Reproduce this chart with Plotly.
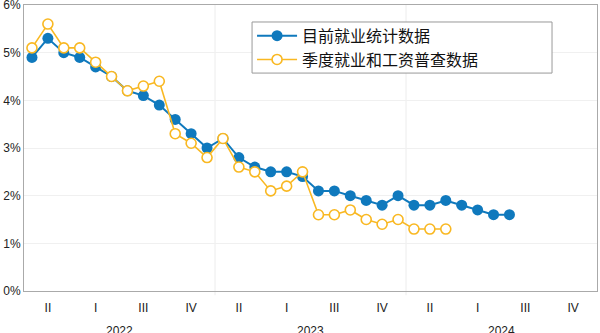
import plotly.graph_objects as go

# Monthly unemployment-style rates (%), index 0 = first month shown
ces_values = [4.9, 5.3, 5.0, 4.9, 4.7, 4.5, 4.2, 4.1, 3.9, 3.6, 3.3, 3.0,
              3.2, 2.8, 2.6, 2.5, 2.5, 2.4, 2.1, 2.1, 2.0, 1.9, 1.8, 2.0,
              1.8, 1.8, 1.9, 1.8, 1.7, 1.6, 1.6]
qcew_values = [5.1, 5.6, 5.1, 5.1, 4.8, 4.5, 4.2, 4.3, 4.4, 3.3, 3.1, 2.8,
               3.2, 2.6, 2.5, 2.1, 2.2, 2.5, 1.6, 1.6, 1.7, 1.5, 1.4, 1.5,
               1.3, 1.3, 1.3]
series_names = ["目前就业统计数据", "季度就业和工资普查数据"]
quarter_labels = ["II", "I", "III", "IV"] * 3
year_labels = ["2022", "2023", "2024"]
y_ticks = [0, 1, 2, 3, 4, 5, 6]

BLUE = "#0f79bd"
GOLD = "#f9b822"
FONT = "Liberation Sans, Arial, sans-serif"

months_ces = list(range(len(ces_values)))
months_qcew = list(range(len(qcew_values)))
quarter_pos = [1 + 3 * i for i in range(len(quarter_labels))]
year_pos = [5.5 + 12 * i for i in range(len(year_labels))]

fig = go.Figure()
fig.add_trace(go.Scatter(
    x=months_ces, y=ces_values, name=series_names[0], mode="lines+markers",
    line=dict(color=BLUE, width=2),
    marker=dict(color=BLUE, size=11, line=dict(width=0)),
))
fig.add_trace(go.Scatter(
    x=months_qcew, y=qcew_values, name=series_names[1], mode="lines+markers",
    line=dict(color=GOLD, width=1.6),
    marker=dict(color="white", size=10, line=dict(color=GOLD, width=1.6)),
))

# Year boundaries
for b in (11.5, 23.5):
    fig.add_shape(type="line", xref="x", yref="paper", x0=b, x1=b, y0=-0.015, y1=1,
                  line=dict(color="#ececec", width=1), layer="below")

# Legend frame
fig.add_shape(type="rect", xref="paper", yref="paper",
              x0=0.398, x1=0.9215, y0=0.762, y1=0.9406,
              line=dict(color="#999", width=1), fillcolor="white", layer="above")

for yr, pos in zip(year_labels, year_pos):
    fig.add_annotation(x=pos, y=-0.11, xref="x", yref="paper", text=yr,
                       showarrow=False, yanchor="top",
                       font=dict(family=FONT, size=12, color="#222"))

fig.update_layout(
    width=600, height=333,
    margin=dict(l=24, r=3, t=5, b=42, autoexpand=False),
    paper_bgcolor="white", plot_bgcolor="white",
    font=dict(family=FONT, size=12, color="#222"),
    showlegend=True,
    legend=dict(
        x=0.398, y=0.952, xanchor="left", yanchor="top",
        borderwidth=0, bgcolor="rgba(0,0,0,0)",
        font=dict(family="Noto Sans CJK SC", size=16, color="#111"),
        itemwidth=40, tracegroupgap=0,
    ),
    xaxis=dict(
        range=[-0.5, 35.5], tickmode="array", tickvals=quarter_pos,
        ticktext=quarter_labels, showgrid=False, zeroline=False,
        showline=True, linecolor="#aaa", linewidth=1, mirror=True,
        ticks="", ticklen=0, ticklabelstandoff=6, automargin=False,
        tickfont=dict(size=12, color="#222"),
    ),
    yaxis=dict(
        range=[0, 6], tickmode="array", tickvals=y_ticks,
        ticktext=[f"{v}%" for v in y_ticks],
        showgrid=True, gridcolor="#f0f0f0", zeroline=False,
        showline=True, linecolor="#aaa", linewidth=1, mirror=True,
        ticks="", ticklabeloverflow="allow", automargin=False,
        tickfont=dict(size=12, color="#222"),
    ),
)

fig.write_html("out.html")
